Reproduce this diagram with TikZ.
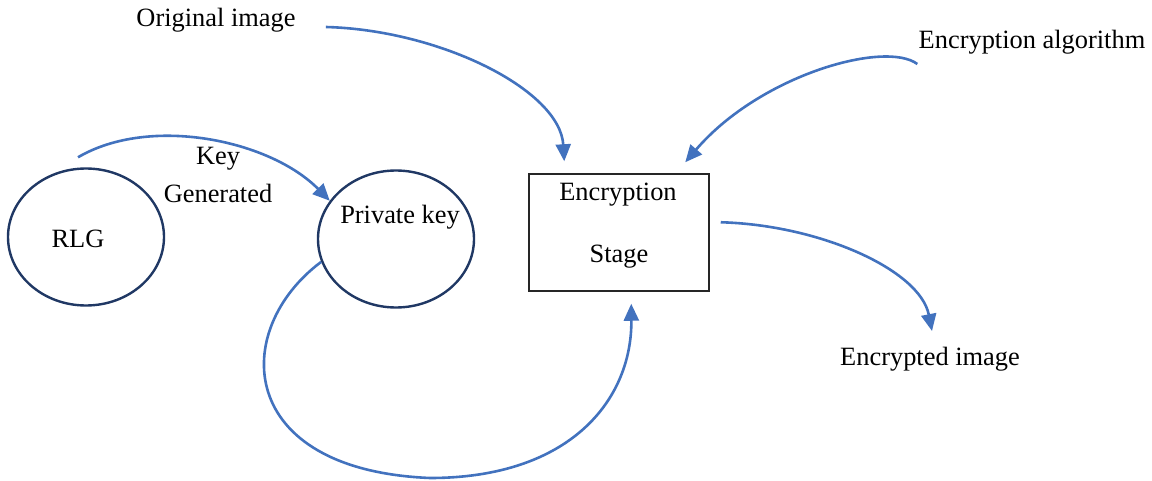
\documentclass[tikz,border=0pt]{standalone}
\usepackage{fontspec}
\setmainfont{Liberation Serif}
\usetikzlibrary{arrows.meta,calc,shapes.geometric}
\definecolor{arrblue}{RGB}{66,114,190}
\definecolor{navy}{RGB}{32,56,100}
\begin{document}
\begin{tikzpicture}[x=0.5pt,y=-0.5pt, font=\fontsize{13.2}{16}\selectfont,
  circ/.style={ellipse, draw=navy, line width=1.2pt, minimum width=78pt, minimum height=68.5pt, inner sep=0},
  stagebox/.style={draw=black!85, line width=0.75pt, minimum width=90pt, minimum height=58.5pt, inner sep=0},
  lbl/.style={inner sep=0},
  arr/.style={draw=arrblue, line width=1.3pt, -{Triangle[length=8.5pt,width=7.5pt]}}]
\useasboundingbox (0,0) rectangle (1152,481);
% nodes
\node[circ] (rlg) at (86,237) {};
\node[lbl] (rlgt) at (78,239) {RLG};
\node[circ] (pk) at (396,239) {};
\node[lbl] (pkt) at (400,217) {Private key};
\node[stagebox] (box) at (619,232.5) {};
\node[lbl] (enc) at (618,195) {Encryption};
\node[lbl] (stg) at (619,257) {Stage};
\node[lbl] (oi) at (216,20) {Original image};
\node[lbl] (ea) at (1032,42) {Encryption algorithm};
\node[lbl] (key) at (218,159) {Key};
\node[lbl] (gen) at (218,193) {Generated};
\node[lbl] (ei) at (930,359) {Encrypted image};
% connectors
\draw[arr] ($(rlg.north)+(-8,-10)$) .. controls (150,115) and (270,140) .. (pk.150);
\draw[arr] ($(oi.east)+(30,7)$) .. controls (440,30) and (560,90) .. ($(box.north west)+(36,-12)$);
\draw[arr] ($(ea.west)+(-1,22)$) .. controls (885,40) and (760,75) .. ($(box.north west)+(157,-11)$);
\draw[arr] (pk.197) .. controls (230,330) and (235,470) .. (430,478)
  .. controls (570,478) and (632,400) .. ($(box.south west)+(103,12)$);
\draw[arr] ($(box.north east)+(11,49)$) .. controls (820,225) and (920,270) .. ($(ei.center)+(2,-28)$);
\end{tikzpicture}
\end{document}
